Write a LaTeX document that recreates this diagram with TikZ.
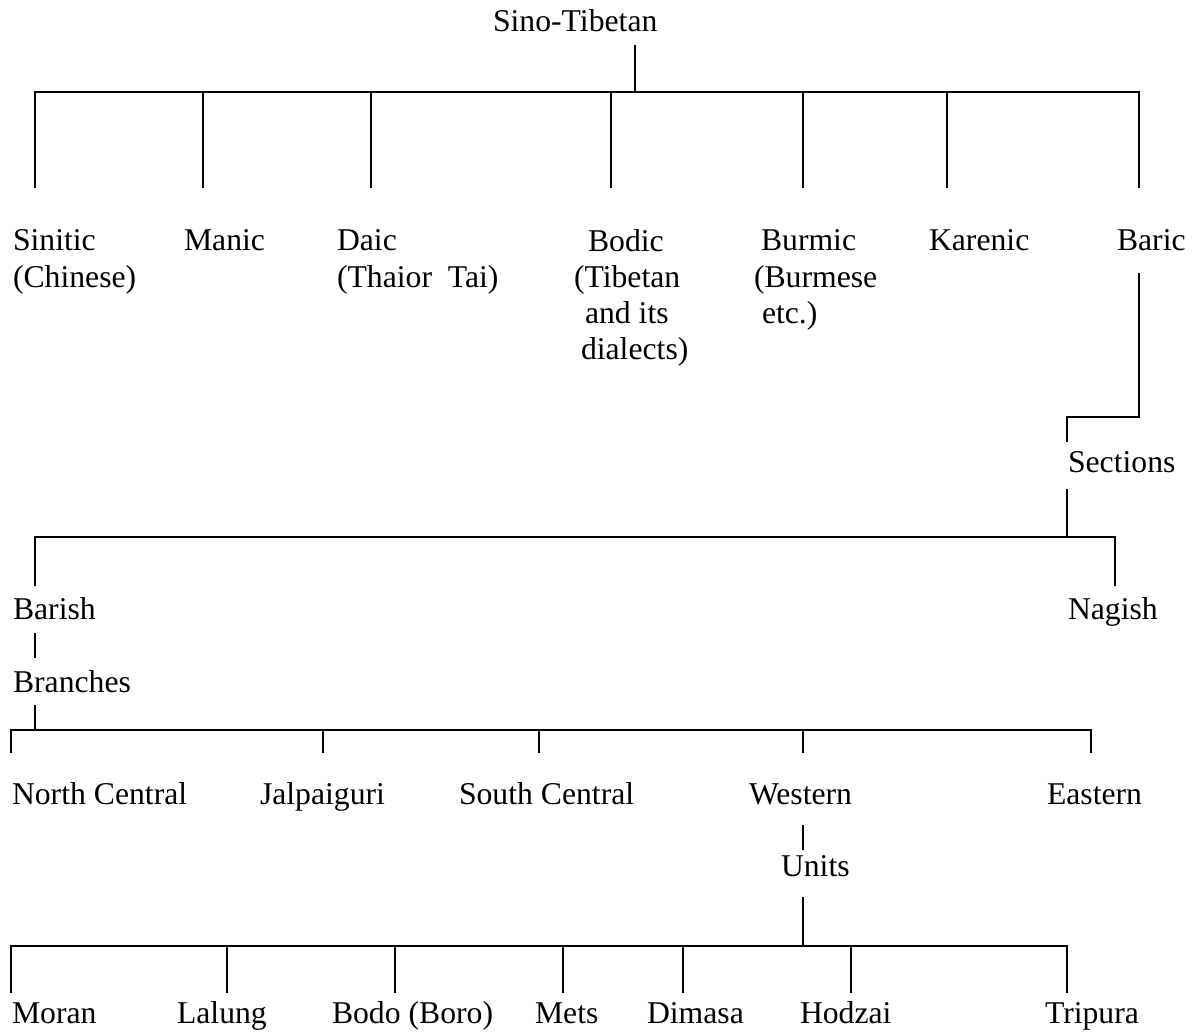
\documentclass[tikz,border=0pt]{standalone}
\usepackage{fontspec}
\setmainfont{Liberation Serif}
\begin{document}
\begin{tikzpicture}[x=0.5pt,y=-0.5pt,line width=1pt,
  lbl/.style={anchor=base west,inner sep=0pt,align=left,
    font=\fontsize{15.85pt}{18pt}\selectfont}]
\useasboundingbox (0,0) rectangle (1194,1032);

% ---- family level (multi-line labels are placed by their last baseline) ----
\node[lbl] (root) at (492,32) {Sino-Tibetan};
\node[lbl] (sinitic) at (12,287) {Sinitic\\(Chinese)};
\node[lbl] (manic) at (183,251) {Manic};
\node[lbl] (daic) at (336,287) {Daic\\(Thaior\ \ Tai)};
\node[lbl] (bodic) at (573,359) {\hspace*{7pt}Bodic\\(Tibetan\\\hspace*{5.5pt}and its\\\hspace*{3.5pt}dialects)};
\node[lbl] (burmic) at (753,323) {\hspace*{3.5pt}Burmic\\(Burmese\\\hspace*{4pt}etc.)};
\node[lbl] (karenic) at (928,251) {Karenic};
\node[lbl] (baric) at (1116,251) {Baric};

\coordinate (roottop) at (635,45);
\coordinate (rootfoot) at (635,92);
\coordinate (t-sinitic) at (35,188);
\coordinate (t-manic) at (203,188);
\coordinate (t-daic) at (371,188);
\coordinate (t-bodic) at (611,188);
\coordinate (t-burmic) at (803,188);
\coordinate (t-karenic) at (947,188);
\coordinate (t-baric) at (1139,188);
\draw (roottop) -- (rootfoot);
\foreach \n in {sinitic,manic,daic,bodic,burmic,karenic,baric}
  \draw (t-\n) |- (rootfoot);

% ---- sections ----
\node[lbl] (sections) at (1067,472) {Sections};
\coordinate (baricfoot) at (1139,273);
\coordinate (baricbend) at (1139,417);
\coordinate (sechead) at (1067,442);
\draw (baricfoot) -- (baricbend) -| (sechead);

\node[lbl] (barish) at (12,619) {Barish};
\node[lbl] (nagish) at (1067,619) {Nagish};
\coordinate (sectop) at (1067,489);
\coordinate (secfoot) at (1067,537);
\coordinate (t-barish) at (35,586);
\coordinate (t-nagish) at (1115,586);
\draw (sectop) -- (secfoot);
\draw (t-barish) |- (secfoot);
\draw (t-nagish) |- (secfoot);

% ---- branches ----
\node[lbl] (branches) at (12,692) {Branches};
\coordinate (barishfoot) at (35,633);
\coordinate (brhead) at (35,658);
\draw (barishfoot) -- (brhead);

\node[lbl] (ncentral) at (11,804) {North Central};
\node[lbl] (jalpaiguri) at (259,804) {Jalpaiguri};
\node[lbl] (scentral) at (458,804) {South Central};
\node[lbl] (western) at (748,804) {Western};
\node[lbl] (eastern) at (1046,804) {Eastern};
\coordinate (brtop) at (35,705);
\coordinate (brfoot) at (35,730);
\coordinate (t-ncentral) at (11,753);
\coordinate (t-jalpaiguri) at (323,753);
\coordinate (t-scentral) at (539,753);
\coordinate (t-western) at (803,753);
\coordinate (t-eastern) at (1091,753);
\draw (brtop) -- (brfoot);
\foreach \n in {ncentral,jalpaiguri,scentral,western,eastern}
  \draw (t-\n) |- (brfoot);

% ---- units ----
\node[lbl] (units) at (780,876) {Units};
\coordinate (westfoot) at (803,825);
\coordinate (unithead) at (803,850);
\draw (westfoot) -- (unithead);

\node[lbl] (moran) at (11,1023) {Moran};
\node[lbl] (lalung) at (176,1023) {Lalung};
\node[lbl] (bodo) at (331,1023) {Bodo (Boro)};
\node[lbl] (mets) at (534,1023) {Mets};
\node[lbl] (dimasa) at (646,1023) {Dimasa};
\node[lbl] (hodzai) at (799,1023) {Hodzai};
\node[lbl] (tripura) at (1044,1023) {Tripura};
\coordinate (untop) at (803,897);
\coordinate (unfoot) at (803,946);
\coordinate (t-moran) at (11,993);
\coordinate (t-lalung) at (227,993);
\coordinate (t-bodo) at (395,993);
\coordinate (t-mets) at (563,993);
\coordinate (t-dimasa) at (683,993);
\coordinate (t-hodzai) at (851,993);
\coordinate (t-tripura) at (1067,993);
\draw (untop) -- (unfoot);
\foreach \n in {moran,lalung,bodo,mets,dimasa,hodzai,tripura}
  \draw (t-\n) |- (unfoot);
\end{tikzpicture}
\end{document}
